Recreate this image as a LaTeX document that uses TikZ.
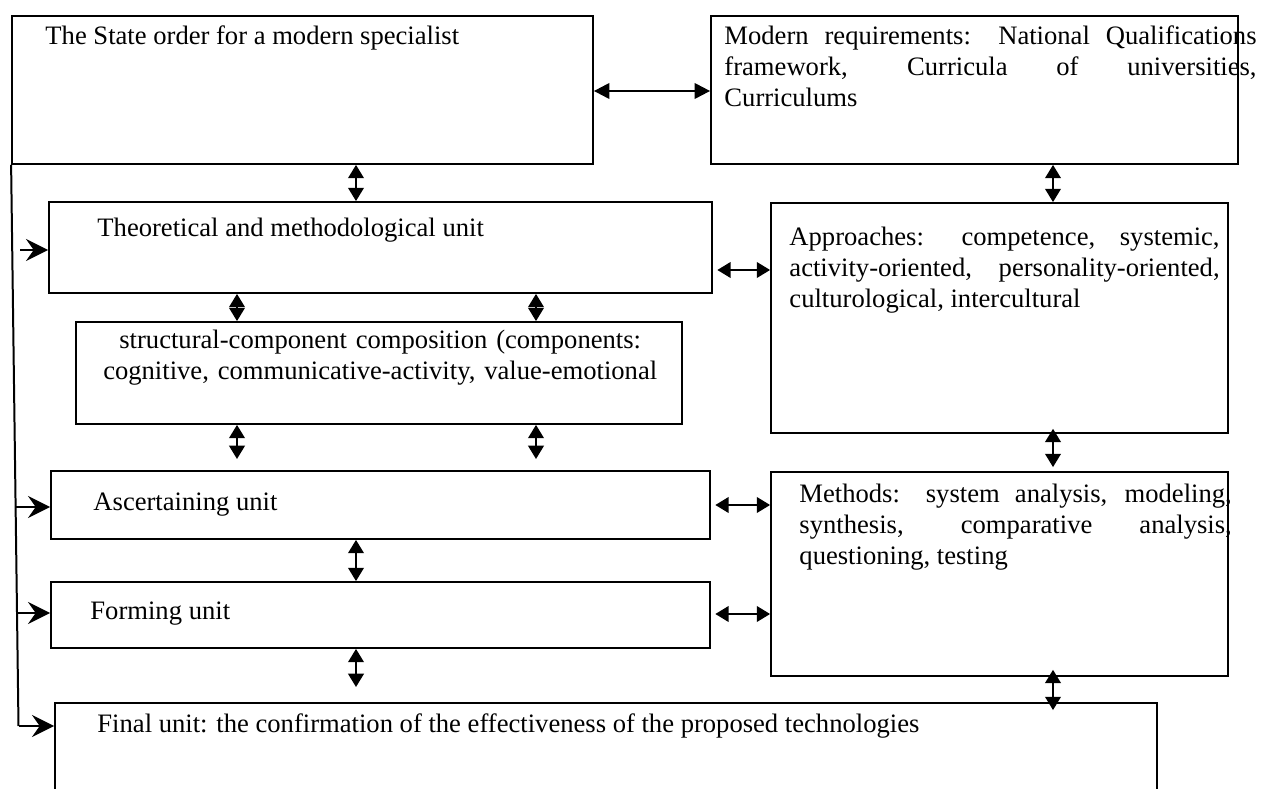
\documentclass[tikz,border=0pt]{standalone}
\usepackage{fontspec}
\setmainfont{Liberation Serif}
\usetikzlibrary{arrows.meta,positioning,fit,calc}

\tikzset{
  box/.style={draw, line width=0.8pt, inner sep=0pt},
  txt/.style={anchor=base west, inner sep=0pt, font=\fontsize{12}{13.8}\selectfont},
  link/.style={line width=1pt, {Triangle[length=6pt,width=7pt]}-{Triangle[length=6pt,width=7pt]}},
  wide link/.style={link, {Triangle[length=7pt,width=7pt]}-{Triangle[length=7pt,width=7pt]}},
  feed/.style={line width=0.9pt, -{Stealth[length=10pt,width=10pt,inset=3.5pt]}}
}

\begin{document}
\begin{tikzpicture}[x=0.451pt,y=-0.451pt]
\clip (0,0) rectangle (1263,789);

% boxes
\node[box, fit={(12,16) (593,164)}] (state) {};
\node[box, fit={(711,16) (1238,164)}] (modern) {};
\node[box, fit={(49,202) (712,293)}] (theo) {};
\node[box, fit={(771,203) (1228,433)}] (approach) {};
\node[box, fit={(76,322) (682,424)}] (struct) {};
\node[box, fit={(51,471) (710,539)}] (ascert) {};
\node[box, fit={(771,472) (1228,676)}] (methods) {};
\node[box, fit={(51,582) (710,648)}] (forming) {};
\node[box, fit={(55,703) (1157,830)}] (final) {};

% texts
\node[txt] (statetxt) at (45,45) {The State order for a modern specialist};
\node[txt, text width=240pt, align=justify] (moderntxt) at (724,45)
  {Modern requirements: National Qualifications\linebreak framework, Curricula of universities,\linebreak Curriculums};
\node[txt] (theotxt) at (97,237) {Theoretical and methodological unit};
\node[txt, text width=194pt, align=justify] (approachtxt) at (789,246)
  {Approaches: competence, systemic,\linebreak activity-oriented, personality-oriented,\linebreak culturological, intercultural};
\node[txt, text width=274pt, align=center] (structtxt) at (76,349)
  {structural-component composition (components:\\ cognitive, communicative-activity, value-emotional};
\node[txt] (ascerttxt) at (93,511) {Ascertaining unit};
\node[txt, text width=195pt, align=justify] (methodstxt) at (799,503)
  {Methods: system analysis, modeling,\linebreak synthesis, comparative analysis,\linebreak questioning, testing};
\node[txt] (formingtxt) at (90,619) {Forming unit};
\node[txt] (finaltxt) at (97,732) {Final unit: the confirmation of the effectiveness of the proposed technologies};

% columns and rows for the connectors
\coordinate (colA) at (356,0);
\coordinate (colB) at (1053,0);
\coordinate (colL) at (237,0);
\coordinate (colR) at (536,0);
\coordinate (rowT) at (0,91);
\coordinate (rowM) at (0,270);
\coordinate (rowS) at (0,505);
\coordinate (rowF) at (0,614);

% two-way links
\draw[wide link] (state.east |- rowT) -- (modern.west |- rowT);
\draw[link] (state.south -| colA) -- (theo.north -| colA);
\draw[link] (modern.south -| colB) -- (approach.north -| colB);
\draw[link, shorten <=2pt] (theo.east |- rowM) -- (approach.west |- rowM);
\draw[link] (theo.south -| colL) -- (struct.north -| colL);
\draw[link] (theo.south -| colR) -- (struct.north -| colR);
\draw[link, shorten >=5pt] (struct.south -| colL) -- (ascert.north -| colL);
\draw[link, shorten >=5pt] (struct.south -| colR) -- (ascert.north -| colR);
\draw[link, shorten <=2pt] (ascert.east |- rowS) -- (methods.west |- rowS);
\draw[link] (ascert.south -| colA) -- (forming.north -| colA);
\draw[link, shorten <=2pt] (forming.east |- rowF) -- (methods.west |- rowF);
\draw[link, shorten >=6.8pt] (forming.south -| colA) -- (final.north -| colA);
\draw[link, shorten <=-2.3pt, shorten >=1.8pt] (approach.south -| colB) -- (methods.north -| colB);
\draw[link, shorten <=-3.2pt, shorten >=-3.6pt] (methods.south -| colB) -- (final.north -| colB);

% feed line on the left
\coordinate (bend) at (18.5,726);
\coordinate (in1) at (20,250);
\coordinate (in2) at (15.8,507);
\coordinate (in3) at (16.9,613);
\draw[line width=0.9pt] (state.south west) -- (bend);
\draw[feed] (in1) -- (in1 -| theo.west);
\draw[feed] (in2) -- (in2 -| ascert.west);
\draw[feed] (in3) -- (in3 -| forming.west);
\draw[feed] (bend) -- (bend -| final.west);
\end{tikzpicture}
\end{document}
